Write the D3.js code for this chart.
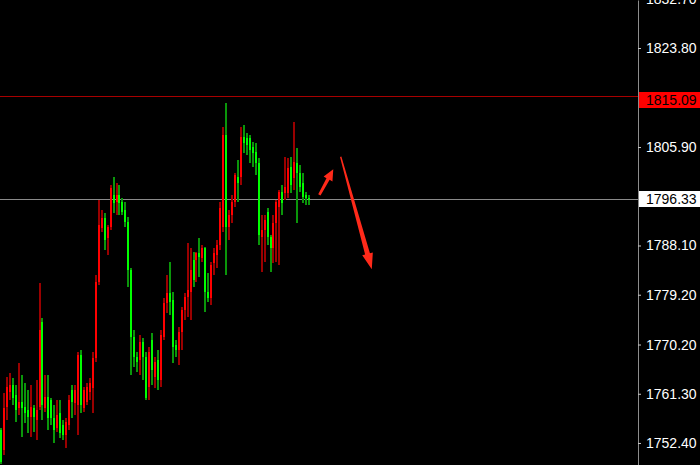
<!DOCTYPE html>
<html>
<head>
<meta charset="utf-8">
<script src="https://cdn.jsdelivr.net/npm/d3@7"></script>
<style>
html,body{margin:0;padding:0;background:#000;}
svg{display:block;}
</style>
</head>
<body>
<svg id="chart" width="700" height="465"></svg>
<script>
// ---- DATA (price values) ----
const opens = [1754.75,1751.13,1758.90,1761.62,1762.88,1761.07,1758.72,1759.81,1758.90,1758.36,
1757.10,1758.72,1756.55,1758.90,1774.27,1758.72,1760.71,1760.17,1756.92,1755.11,
1757.82,1755.65,1753.84,1755.65,1761.98,1759.63,1759.27,1768.31,1758.72,1759.81,
1761.62,1762.34,1767.76,1781.50,1791.27,1793.08,1789.46,1791.45,1797.23,1795.97,
1797.23,1795.97,1794.52,1792.35,1783.67,1771.56,1767.94,1767.40,1770.66,1767.94,
1762.52,1771.02,1764.33,1767.40,1763.79,1771.56,1777.71,1779.52,1778.25,1770.11,
1769.21,1772.46,1776.44,1778.79,1779.70,1785.48,1785.48,1786.75,1785.84,1787.65,
1779.70,1778.61,1784.94,1786.39,1788.19,1791.45,1808.07,1791.45,1793.62,1795.97,
1800.49,1800.49,1807.71,1807.53,1807.53,1805.90,1805.00,1803.01,1789.64,1790.91,
1794.16,1789.64,1787.65,1792.17,1795.06,1797.78,1797.60,1797.60,1802.29,1800.30,
1803.01,1801.21,1799.40,1797.23,1796.69];
const highs = [1755.11,1761.44,1764.33,1765.05,1764.15,1762.88,1766.86,1764.69,1763.24,1761.98,
1762.88,1759.27,1763.79,1781.32,1774.99,1764.69,1764.69,1760.53,1759.27,1760.17,
1760.17,1756.55,1756.92,1761.07,1762.88,1762.88,1768.85,1769.21,1762.52,1763.24,
1764.15,1768.85,1782.77,1796.33,1794.52,1793.98,1791.81,1799.04,1800.49,1799.40,
1799.04,1796.69,1795.97,1793.26,1784.04,1772.83,1768.85,1771.92,1771.38,1768.85,
1769.75,1772.28,1767.94,1769.21,1772.83,1778.61,1782.77,1785.12,1779.70,1771.02,
1773.37,1776.98,1779.52,1788.56,1787.65,1786.93,1786.93,1789.46,1788.19,1787.83,
1783.13,1785.12,1787.65,1789.10,1795.97,1809.52,1813.86,1794.52,1797.23,1801.21,
1803.55,1809.52,1809.88,1808.43,1808.07,1806.81,1806.63,1803.91,1793.62,1793.62,
1794.88,1790.00,1793.62,1796.33,1798.14,1799.04,1804.09,1803.91,1804.09,1810.42,
1805.72,1802.65,1801.21,1797.78,1797.23];
const lows = [1748.60,1750.23,1756.55,1760.17,1759.27,1756.19,1757.46,1753.48,1756.01,1754.20,
1753.48,1754.38,1752.94,1758.36,1756.55,1758.00,1754.75,1755.65,1752.40,1754.38,
1753.30,1752.94,1751.49,1754.75,1756.92,1757.46,1753.84,1757.82,1758.00,1759.27,
1760.17,1757.82,1767.04,1780.96,1790.55,1787.29,1786.39,1790.91,1793.98,1793.62,
1793.62,1793.62,1791.45,1780.60,1764.69,1766.13,1765.23,1764.69,1763.79,1760.17,
1760.17,1762.88,1762.34,1761.98,1762.52,1771.02,1775.90,1775.54,1766.86,1767.94,
1766.50,1769.21,1774.63,1775.18,1774.63,1780.60,1781.50,1782.41,1785.12,1776.08,
1777.89,1777.35,1782.77,1784.04,1787.29,1790.55,1782.77,1789.10,1792.17,1795.06,
1795.97,1799.04,1804.82,1804.46,1803.01,1802.29,1800.85,1788.19,1783.31,1785.12,
1788.19,1783.31,1784.94,1785.12,1784.58,1793.62,1796.33,1796.69,1797.60,1798.14,
1792.17,1797.78,1795.79,1795.43,1795.43];
const closes = [1748.96,1758.72,1762.52,1762.88,1760.53,1758.36,1759.81,1758.72,1757.82,1757.10,
1758.90,1757.10,1758.36,1772.83,1759.27,1760.71,1756.92,1756.92,1754.75,1757.46,
1754.20,1753.84,1756.19,1760.17,1759.81,1761.98,1768.31,1759.27,1761.98,1762.52,
1763.24,1767.76,1781.50,1791.81,1793.08,1789.10,1791.45,1798.50,1795.79,1797.23,
1795.79,1794.16,1792.35,1783.67,1771.56,1767.94,1767.04,1770.66,1767.94,1760.53,
1768.85,1765.59,1767.04,1763.79,1771.92,1777.71,1779.52,1777.89,1769.75,1769.21,
1772.46,1776.44,1778.79,1780.06,1783.67,1781.86,1786.75,1786.02,1787.65,1779.70,
1778.61,1784.58,1786.75,1788.19,1794.88,1808.07,1791.45,1793.62,1795.97,1800.85,
1799.40,1807.71,1806.63,1806.26,1805.36,1804.82,1803.01,1790.00,1790.91,1792.71,
1789.64,1787.65,1792.17,1795.97,1797.78,1795.79,1798.68,1802.11,1799.04,1803.19,
1801.21,1798.68,1796.87,1796.69,1796.33];

const tickValues = [1832.70, 1823.80, 1805.90, 1788.10, 1779.20, 1770.20, 1761.30, 1752.40];
const tickLabels = ["1832.70", "1823.80", "1805.90", "1788.10", "1779.20", "1770.20", "1761.30", "1752.40"];

const levelValues = [1815.09, 1796.33];
const levelLabels = ["1815.09", "1796.33"];

// annotation arrows: [barIndex, price]
const arrowTails = [[107.5, 1797.23], [114.7, 1804.15]];
const arrowTips  = [[112.2, 1801.87], [125.2, 1783.80]];

// ---- DRAW ----
const W = 700, H = 465, axisX = 638;
const svg = d3.select("#chart");
svg.append("rect").attr("width", W).attr("height", H).attr("fill", "#000");

const y = d3.scaleLinear().domain([1748.42, 1832.48]).range([H, 0]);
const x = d3.scaleLinear().domain([0, opens.length - 1]).range([1, 309]);

const bars = opens.map((o, i) => ({i, o, h: highs[i], l: lows[i], c: closes[i]}));

// level lines (behind candles)
const levelStyle = [
  {line: "#a80000", box: "#ff0000", text: "#000", boxTop: -4, off: 0.5},
  {line: "#8a8a8a", box: "#ffffff", text: "#000", boxTop: -9, off: -0.5}
];
svg.selectAll("line.level").data(levelValues).join("line")
  .attr("class", "level")
  .attr("x1", 0).attr("x2", axisX)
  .attr("y1", (d, k) => Math.round(y(d)) + levelStyle[k].off)
  .attr("y2", (d, k) => Math.round(y(d)) + levelStyle[k].off)
  .attr("stroke", (d, k) => levelStyle[k].line).attr("stroke-width", 1);

const g = svg.append("g").attr("shape-rendering", "crispEdges");
// wicks
g.selectAll("rect.wick").data(bars).join("rect")
  .attr("class", "wick")
  .attr("x", d => Math.round(x(d.i)) - 1)
  .attr("width", 2)
  .attr("y", d => Math.round(y(d.h)))
  .attr("height", d => Math.max(1, Math.round(y(d.l)) - Math.round(y(d.h))))
  .attr("fill", d => d.c >= d.o ? "#9a0000" : "#0a960a");
// bodies
g.selectAll("rect.body").data(bars).join("rect")
  .attr("class", "body")
  .attr("x", d => Math.round(x(d.i)) - 1)
  .attr("width", 2)
  .attr("y", d => Math.round(y(Math.max(d.o, d.c))))
  .attr("height", d => Math.max(1, Math.round(y(Math.min(d.o, d.c))) - Math.round(y(Math.max(d.o, d.c)))))
  .attr("fill", d => d.c >= d.o ? "#ff0000" : "#00ff00");

// arrows
function arrowPath(p0, p1, w0, w1, headLen, headW) {
  const dx = p1[0] - p0[0], dy = p1[1] - p0[1];
  const len = Math.hypot(dx, dy);
  const ux = dx / len, uy = dy / len, nx = -uy, ny = ux;
  const bx = p1[0] - ux * headLen, by = p1[1] - uy * headLen;
  const pts = [
    [p0[0] + nx * w0 / 2, p0[1] + ny * w0 / 2],
    [bx + nx * w1 / 2, by + ny * w1 / 2],
    [bx + nx * headW / 2, by + ny * headW / 2],
    [p1[0], p1[1]],
    [bx - nx * headW / 2, by - ny * headW / 2],
    [bx - nx * w1 / 2, by - ny * w1 / 2],
    [p0[0] - nx * w0 / 2, p0[1] - ny * w0 / 2]
  ];
  return "M" + pts.map(p => p[0].toFixed(2) + "," + p[1].toFixed(2)).join("L") + "Z";
}
const arrowStyle = [{w0: 2.6, w1: 3.6, hl: 11, hw: 10}, {w0: 1.4, w1: 5, hl: 16, hw: 11}];
svg.selectAll("path.arrow").data(arrowTails).join("path")
  .attr("class", "arrow")
  .attr("d", (t, k) => {
    const s = arrowStyle[k];
    return arrowPath([x(t[0]), y(t[1])], [x(arrowTips[k][0]), y(arrowTips[k][1])], s.w0, s.w1, s.hl, s.hw);
  })
  .attr("fill", "#ff2a1a");

// right price axis
const labelMap = new Map(tickValues.map((v, k) => [v, tickLabels[k]]));
const axis = d3.axisRight(y).tickValues(tickValues).tickSizeInner(3).tickSizeOuter(0).tickPadding(5)
  .tickFormat(v => labelMap.get(v));
const ax = svg.append("g").attr("transform", `translate(${axisX},0)`).call(axis);
ax.select(".domain").attr("stroke", "#8c8c8c");
ax.selectAll(".tick line").attr("stroke", "#c8c8c8");
ax.selectAll(".tick text").attr("fill", "#ffffff")
  .style("font-family", "'Liberation Sans', Arial, sans-serif").style("font-size", "14px");

// level label boxes
levelValues.forEach((v, k) => {
  const yy = Math.round(y(v));
  const top = yy + levelStyle[k].boxTop;
  svg.append("rect").attr("x", axisX + 1).attr("y", top).attr("width", W - axisX - 1).attr("height", 16)
    .attr("fill", levelStyle[k].box).attr("shape-rendering", "crispEdges");
  svg.append("text").attr("x", axisX + 8).attr("y", top + 8).attr("dy", "0.35em")
    .attr("fill", levelStyle[k].text)
    .style("font-family", "'Liberation Sans', Arial, sans-serif").style("font-size", "14px")
    .text(levelLabels[k]);
});
</script>
</body>
</html>
